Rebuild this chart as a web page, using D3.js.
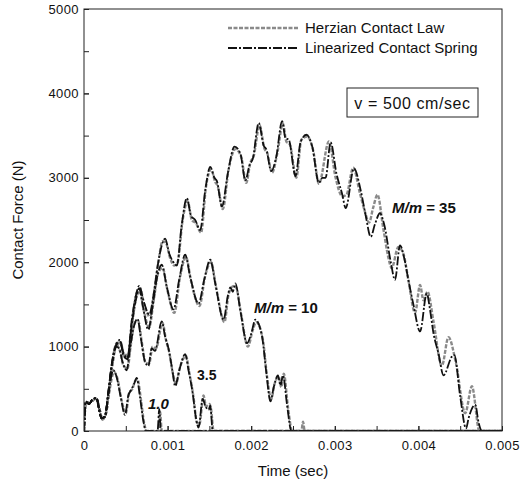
<!DOCTYPE html>
<html>
<head>
<meta charset="utf-8">
<script src="https://cdn.jsdelivr.net/npm/d3@7"></script>
<style>
  body { margin: 0; background: #fff; }
  svg { display: block; font-family: Arial, "Liberation Sans", Helvetica, sans-serif; }
</style>
</head>
<body>
<div id="chart"></div>
<script>
// time in ms, force in N
const yTicks = [0, 1000, 2000, 3000, 4000, 5000];
const xTicks = [0, 0.001, 0.002, 0.003, 0.004, 0.005];
const legendLabels = ['Herzian Contact Law', 'Linearized Contact Spring'];

// M/m = 1.0
const lin1 = [[0,0],[0.02,350],[0.06,320],[0.1,370],[0.15,390],[0.18,260],[0.21,150],[0.25,170],[0.29,420],[0.35,720],[0.39,640],[0.44,400],[0.49,190],[0.53,420],[0.56,480],[0.6,560],[0.63,630],[0.67,400],[0.71,120],[0.74,0],[0.88,0],[0.9,260],[0.92,0],[5,0]];
const herz1 = [[0,0],[0.02,330],[0.06,340],[0.1,360],[0.15,380],[0.18,280],[0.22,140],[0.26,200],[0.3,450],[0.36,700],[0.4,620],[0.45,360],[0.5,210],[0.54,450],[0.58,500],[0.61,590],[0.64,610],[0.68,380],[0.72,90],[0.75,0],[0.89,0],[0.91,230],[0.93,0],[5,0]];

// M/m = 3.5
const lin35 = [[0,0],[0.02,350],[0.06,320],[0.1,370],[0.15,390],[0.18,260],[0.21,150],[0.25,170],[0.29,450],[0.33,760],[0.38,1000],[0.42,980],[0.46,820],[0.51,720],[0.55,980],[0.6,1250],[0.64,1330],[0.68,1100],[0.73,820],[0.77,770],[0.81,980],[0.85,950],[0.93,1300],[0.97,1120],[1.01,980],[1.06,700],[1.09,530],[1.14,720],[1.21,910],[1.25,720],[1.3,450],[1.34,150],[1.37,40],[1.42,380],[1.45,300],[1.49,250],[1.51,300],[1.54,0],[5,0]];
const herz35 = [[0,0],[0.02,330],[0.06,340],[0.1,360],[0.15,380],[0.18,280],[0.22,140],[0.26,200],[0.3,480],[0.34,790],[0.39,1020],[0.43,950],[0.47,780],[0.52,740],[0.56,1020],[0.61,1290],[0.65,1300],[0.69,1060],[0.74,800],[0.78,800],[0.82,1000],[0.86,980],[0.94,1280],[0.98,1080],[1.02,930],[1.07,650],[1.1,560],[1.15,760],[1.22,890],[1.26,690],[1.31,400],[1.35,100],[1.38,80],[1.43,420],[1.46,290],[1.5,320],[1.52,260],[1.55,0],[5,0]];

// M/m = 10
const lin10 = [[0,0],[0.02,350],[0.06,320],[0.1,370],[0.15,390],[0.18,260],[0.21,150],[0.25,170],[0.29,450],[0.33,780],[0.38,1010],[0.43,1080],[0.47,900],[0.52,850],[0.57,1250],[0.62,1550],[0.66,1690],[0.7,1500],[0.77,1200],[0.82,1480],[0.88,1850],[0.93,1970],[0.99,1710],[1.07,1440],[1.14,1800],[1.21,2090],[1.27,1830],[1.37,1510],[1.44,1800],[1.51,2030],[1.57,1750],[1.67,1320],[1.72,1600],[1.75,1700],[1.78,1650],[1.81,1750],[1.87,1430],[1.95,1040],[2.0,1150],[2.05,1320],[2.13,1120],[2.18,700],[2.23,350],[2.27,520],[2.32,660],[2.35,540],[2.38,660],[2.43,300],[2.48,0],[5,0]];
const herz10 = [[0,0],[0.02,330],[0.06,340],[0.1,360],[0.15,380],[0.18,280],[0.22,140],[0.26,200],[0.3,480],[0.34,820],[0.39,1040],[0.44,1050],[0.48,870],[0.53,880],[0.58,1300],[0.63,1600],[0.67,1650],[0.71,1450],[0.78,1230],[0.83,1520],[0.89,1880],[0.94,1930],[1.0,1660],[1.08,1400],[1.15,1830],[1.22,2060],[1.28,1780],[1.38,1480],[1.45,1840],[1.52,2000],[1.58,1700],[1.68,1290],[1.73,1620],[1.79,1720],[1.82,1700],[1.88,1380],[1.96,1000],[2.02,1200],[2.06,1290],[2.14,1080],[2.19,640],[2.24,380],[2.28,560],[2.33,640],[2.36,520],[2.39,680],[2.44,280],[2.49,0],[2.6,0],[2.62,110],[2.64,0],[5,0]];

// M/m = 35
const lin350 = [[0,0],[0.02,350],[0.06,320],[0.1,370],[0.15,390],[0.18,260],[0.21,150],[0.25,170],[0.29,450],[0.33,760],[0.38,1000],[0.43,1060],[0.47,930],[0.52,870],[0.57,1300],[0.62,1600],[0.66,1720],[0.71,1550],[0.78,1380],[0.83,1600],[0.88,1950],[0.93,2200],[0.97,2280],[1.02,2100],[1.07,2000],[1.11,1960],[1.17,2450],[1.23,2760],[1.28,2550],[1.33,2500],[1.39,2380],[1.45,2850],[1.51,3130],[1.56,3000],[1.59,2960],[1.65,2660],[1.72,3050],[1.8,3370],[1.87,3290],[1.93,2970],[1.98,3150],[2.02,3230],[2.09,3650],[2.15,3380],[2.18,3340],[2.24,3080],[2.3,3250],[2.37,3670],[2.41,3470],[2.45,3450],[2.53,3020],[2.59,3420],[2.66,3510],[2.73,3370],[2.81,2940],[2.85,3000],[2.89,3000],[2.95,3420],[3.02,3050],[3.09,2800],[3.13,2640],[3.23,3110],[3.31,2850],[3.37,2550],[3.43,2300],[3.48,2450],[3.54,2580],[3.59,2450],[3.67,2000],[3.72,1790],[3.78,2200],[3.83,2050],[3.88,1790],[3.94,1500],[4.02,1180],[4.1,1630],[4.14,1430],[4.18,1160],[4.24,920],[4.3,660],[4.4,880],[4.43,900],[4.5,410],[4.57,30],[4.6,150],[4.68,310],[4.72,100],[4.76,0],[5,0]];
const herz350 = [[0,0],[0.02,330],[0.06,340],[0.1,360],[0.15,380],[0.18,280],[0.22,140],[0.26,200],[0.3,480],[0.34,790],[0.39,1030],[0.44,1040],[0.48,900],[0.53,900],[0.58,1350],[0.63,1640],[0.67,1690],[0.72,1500],[0.79,1350],[0.84,1650],[0.89,2000],[0.94,2250],[0.98,2230],[1.03,2050],[1.08,1960],[1.12,2000],[1.18,2500],[1.24,2720],[1.29,2500],[1.34,2460],[1.4,2350],[1.46,2900],[1.52,3100],[1.57,2950],[1.6,2900],[1.66,2630],[1.73,3100],[1.81,3340],[1.88,3250],[1.94,2940],[1.99,3180],[2.03,3260],[2.1,3620],[2.16,3340],[2.19,3300],[2.25,3060],[2.31,3280],[2.38,3640],[2.42,3430],[2.46,3400],[2.54,3000],[2.6,3450],[2.67,3490],[2.74,3330],[2.81,2930],[2.93,3430],[3.01,3000],[3.09,2780],[3.14,2800],[3.22,3120],[3.3,2820],[3.36,2600],[3.41,2470],[3.46,2650],[3.51,2800],[3.58,2400],[3.64,2060],[3.68,1930],[3.76,2180],[3.82,2100],[3.88,1790],[3.96,1400],[4.02,1730],[4.06,1550],[4.11,1650],[4.18,1300],[4.28,770],[4.36,1110],[4.45,800],[4.56,210],[4.64,530],[4.73,0],[5,0]];

const herzSeries = [herz1, herz35, herz10, herz350];
const linSeries = [lin1, lin35, lin10, lin350];

const W = 530, H = 487;
const margin = { top: 9, right: 28, bottom: 56, left: 84 };
const width = W - margin.left - margin.right;
const height = H - margin.top - margin.bottom;

const svg = d3.select('#chart').append('svg')
    .attr('width', W)
    .attr('height', H);

const g = svg.append('g')
    .attr('transform', `translate(${margin.left},${margin.top})`);

const x = d3.scaleLinear().domain([0, 0.005]).range([0, width]);
const y = d3.scaleLinear().domain([0, 5000]).range([height, 0]);

// clip the curves to the frame
svg.append('defs').append('clipPath').attr('id', 'clip')
    .append('rect').attr('width', width).attr('height', height);

const line = d3.line()
    .x(d => x(d[0] / 1000))
    .y(d => y(d[1]))
    .curve(d3.curveMonotoneX);

const curves = g.append('g').attr('clip-path', 'url(#clip)');

const herzStyle = { stroke: '#8a8a8a', width: 2.4, dash: '4,1.5' };
const linStyle = { stroke: '#111', width: 1.8, dash: '9,2,2,2' };

curves.selectAll('.herz')
    .data(herzSeries)
    .enter().append('path')
    .attr('class', 'herz')
    .attr('fill', 'none')
    .attr('stroke', herzStyle.stroke)
    .attr('stroke-width', herzStyle.width)
    .attr('stroke-dasharray', herzStyle.dash)
    .attr('d', line);

curves.selectAll('.lin')
    .data(linSeries)
    .enter().append('path')
    .attr('class', 'lin')
    .attr('fill', 'none')
    .attr('stroke', linStyle.stroke)
    .attr('stroke-width', linStyle.width)
    .attr('stroke-dasharray', linStyle.dash)
    .attr('d', line);

// axes, ticks point inward
g.append('g')
    .attr('transform', `translate(0,${height})`)
    .call(d3.axisBottom(x).tickValues(xTicks).tickSize(-5).tickPadding(10)
        .tickFormat(d => d === 0 ? '0' : d3.format('.3f')(d)));
g.append('g')
    .attr('transform', `translate(0,${height})`)
    .call(d3.axisBottom(x).ticks(10).tickSize(-5).tickFormat(''));

g.append('g')
    .call(d3.axisLeft(y).tickValues(yTicks).tickSize(-5).tickPadding(5)
        .tickFormat(d3.format('d')));
g.append('g')
    .call(d3.axisLeft(y).ticks(10).tickSize(-5).tickFormat(''));

g.selectAll('.domain').remove();
g.selectAll('.tick line').attr('stroke', '#222');
g.selectAll('.tick text')
    .style('font-size', '13px')
    .style('letter-spacing', '0.4px')
    .style('fill', '#111');

// frame
g.append('rect')
    .attr('width', width)
    .attr('height', height)
    .attr('fill', 'none')
    .attr('stroke', '#222')
    .attr('stroke-width', 1);

// axis titles
svg.append('text')
    .attr('x', margin.left + width / 2)
    .attr('y', 476)
    .attr('text-anchor', 'middle')
    .style('font-size', '15px')
    .style('fill', '#111')
    .text('Time (sec)');

svg.append('text')
    .attr('transform', `translate(23,${margin.top + height / 2}) rotate(-90)`)
    .attr('text-anchor', 'middle')
    .style('font-size', '15px')
    .style('fill', '#111')
    .text('Contact Force (N)');

// legend
const legend = svg.append('g');
const legendStyles = [herzStyle, linStyle];
legendLabels.forEach((label, i) => {
    const ly = 28 + i * 20;
    legend.append('line')
        .attr('x1', 228).attr('x2', 298)
        .attr('y1', ly).attr('y2', ly)
        .attr('stroke', legendStyles[i].stroke)
        .attr('stroke-width', legendStyles[i].width)
        .attr('stroke-dasharray', legendStyles[i].dash);
    legend.append('text')
        .attr('x', 305)
        .attr('y', ly + 5)
        .style('font-size', '15px')
        .style('fill', '#111')
        .text(label);
});

// velocity box
svg.append('rect')
    .attr('x', 347).attr('y', 88)
    .attr('width', 131).attr('height', 29)
    .attr('fill', '#fff')
    .attr('stroke', '#222');
svg.append('text')
    .attr('x', 412.5).attr('y', 108.5)
    .attr('text-anchor', 'middle')
    .style('font-size', '16px')
    .style('letter-spacing', '0.6px')
    .style('fill', '#111')
    .text('v = 500 cm/sec');

// mass ratio labels
function massLabel(px, py, value) {
    const t = svg.append('text')
        .attr('x', px).attr('y', py)
        .style('font-size', '15px')
        .style('font-weight', 'bold')
        .style('fill', '#111');
    t.append('tspan').style('font-style', 'italic').text('M/m');
    t.append('tspan').text(' = ' + value);
}
massLabel(392, 213, '35');
massLabel(254, 313, '10');

svg.append('text')
    .attr('x', 197).attr('y', 380)
    .style('font-size', '14px')
    .style('font-weight', 'bold')
    .style('fill', '#111')
    .text('3.5');

svg.append('text')
    .attr('x', 148).attr('y', 409)
    .style('font-size', '15px')
    .style('font-weight', 'bold')
    .style('font-style', 'italic')
    .style('fill', '#111')
    .text('1.0');
</script>
</body>
</html>
